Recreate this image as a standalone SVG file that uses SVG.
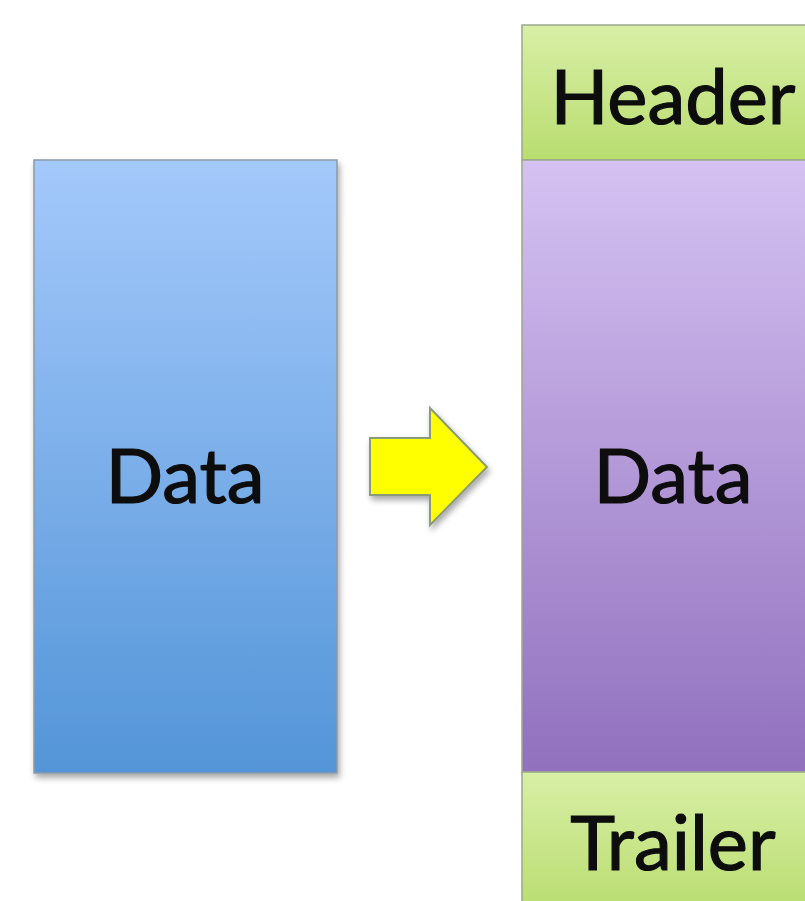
<svg xmlns="http://www.w3.org/2000/svg" width="805" height="901" viewBox="0 0 805 901">
  <defs>
    <linearGradient id="gBlue" x1="0" y1="0" x2="0" y2="1">
      <stop offset="0" stop-color="#a4c9fb"/>
      <stop offset="1" stop-color="#5395d8"/>
    </linearGradient>
    <linearGradient id="gPurple" x1="0" y1="0" x2="0" y2="1">
      <stop offset="0" stop-color="#d5c2f2"/>
      <stop offset="1" stop-color="#9170be"/>
    </linearGradient>
    <linearGradient id="gGreen" x1="0" y1="0" x2="0" y2="1">
      <stop offset="0" stop-color="#d8efa6"/>
      <stop offset="1" stop-color="#b9dd70"/>
    </linearGradient>
    <filter id="shadow" x="-10%" y="-10%" width="130%" height="130%">
      <feGaussianBlur in="SourceAlpha" stdDeviation="3"/>
      <feOffset dx="2" dy="4" result="b"/>
      <feComponentTransfer><feFuncA type="linear" slope="0.35"/></feComponentTransfer>
      <feMerge><feMergeNode/><feMergeNode in="SourceGraphic"/></feMerge>
    </filter>
  </defs>
  <style>
    .lbl { font-family: Lato, "Open Sans", "Liberation Sans", sans-serif; font-size: 76px; fill: #0d0d0d; text-anchor: middle; stroke: #0d0d0d; stroke-width: 1.2; }
    .box { stroke: #8a9aa8; stroke-width: 1.5; }
    .seg { stroke: #9aa88a; stroke-width: 1.5; }
  </style>
  <rect width="805" height="901" fill="#ffffff"/>

  <g id="source-data">
    <rect class="box" x="34" y="160" width="303" height="613" fill="url(#gBlue)" filter="url(#shadow)"/>
    <text class="lbl" x="185" y="503">Data</text>
  </g>

  <g id="connectors">
    <polygon points="370,438 430,438 430,408 487,467 430,525 430,495 370,495" fill="#ffff00" stroke="#8a9a7a" stroke-width="2" filter="url(#shadow)"/>
  </g>

  <g id="frame">
    <g id="header">
      <rect class="seg" x="522" y="25" width="300" height="135" fill="url(#gGreen)"/>
      <text class="lbl" x="673" y="124">Header</text>
    </g>
    <g id="payload">
      <rect class="seg" x="522" y="160" width="300" height="612" fill="url(#gPurple)"/>
      <text class="lbl" x="673" y="503">Data</text>
    </g>
    <g id="trailer">
      <rect class="seg" x="522" y="772" width="300" height="140" fill="url(#gGreen)"/>
      <text class="lbl" x="673" y="870">Trailer</text>
    </g>
  </g>
</svg>
